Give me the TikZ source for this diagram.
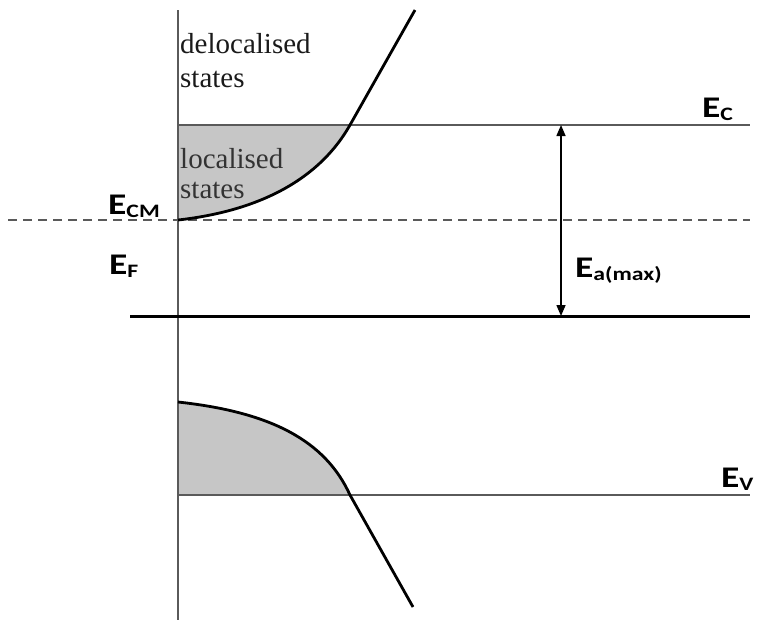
\documentclass[tikz,border=0pt]{standalone}
\usepackage{fontspec}
\setmainfont{Liberation Serif}
\newfontfamily\labfont{Carlito}[FakeStretch=1.25]
\usetikzlibrary{arrows.meta}
\newcommand\Elab[1]{{\labfont\bfseries\fontsize{30}{30}\selectfont E\raisebox{-3pt}{\fontsize{19}{19}\selectfont #1}}}
\definecolor{linegray}{HTML}{5A5A5A}
\definecolor{fillgray}{HTML}{C6C6C6}
\definecolor{txtdark}{HTML}{1A1A1A}
\definecolor{txtgray}{HTML}{333333}
\tikzset{
  thinline/.style={draw=linegray, line width=1.8pt},
  curve/.style={draw=black, line width=2.8pt, line join=round},
  statetext/.style={anchor=base west, inner sep=0pt, font=\fontsize{29}{30}\selectfont},
  elabel/.style={anchor=base west, inner sep=0pt},
}
\begin{document}
\begin{tikzpicture}[x=1pt,y=-1pt]
\useasboundingbox (0,0) rectangle (758,622);
% shaded regions
\fill[fillgray] (178,220) .. controls (250,212) and (316,185) .. (350,125) -- (178,125) -- cycle;
\fill[fillgray] (178,402) .. controls (270,412) and (325,440) .. (350,495) -- (178,495) -- cycle;
% coordinates
\coordinate (axtop) at (178,10);
\coordinate (axbot) at (178,620);
\coordinate (ecl) at (178,125);
\coordinate (ecr) at (750,125);
\coordinate (cml) at (8,220);
\coordinate (cmr) at (750,220);
\coordinate (efl) at (130,316);
\coordinate (efr) at (750,316);
\coordinate (evl) at (178,495);
\coordinate (evr) at (750,495);
\coordinate (arT) at (561,125);
\coordinate (arB) at (561,316);
% lines
\draw[thinline] (axtop) -- (axbot);
\draw[thinline] (ecl) -- (ecr);
\draw[thinline] (evl) -- (evr);
\draw[draw=linegray, line width=2pt, dash pattern=on 9pt off 6pt] (cml) -- (cmr);
\draw[black, line width=3pt] (efl) -- (efr);
\draw[black, line width=1.5pt, {Triangle[length=11pt,width=9pt]}-{Triangle[length=11pt,width=9pt]}] (arT) -- (arB);
% curves
\draw[curve] (178,220) .. controls (250,212) and (316,185) .. (350,125) -- (415,10);
\draw[curve] (178,402) .. controls (270,412) and (325,440) .. (350,495) -- (413,607);
% texts
\node[statetext, text=txtdark] (deloc1) at (180,53) {delocalised};
\node[statetext, text=txtdark] (deloc2) at (180,87) {states};
\node[statetext, text=txtgray] (loc1) at (180,168) {localised};
\node[statetext, text=txtgray] (loc2) at (180,198) {states};
\node[elabel] (ecm) at (108,214) {\Elab{CM}};
\node[elabel] (ef) at (109,274) {\Elab{F}};
\node[elabel] (ec) at (702,117) {\Elab{C}};
\node[elabel] (ea) at (575,277) {\Elab{a(max)}};
\node[elabel] (ev) at (721,487) {\Elab{V}};
\end{tikzpicture}
\end{document}
